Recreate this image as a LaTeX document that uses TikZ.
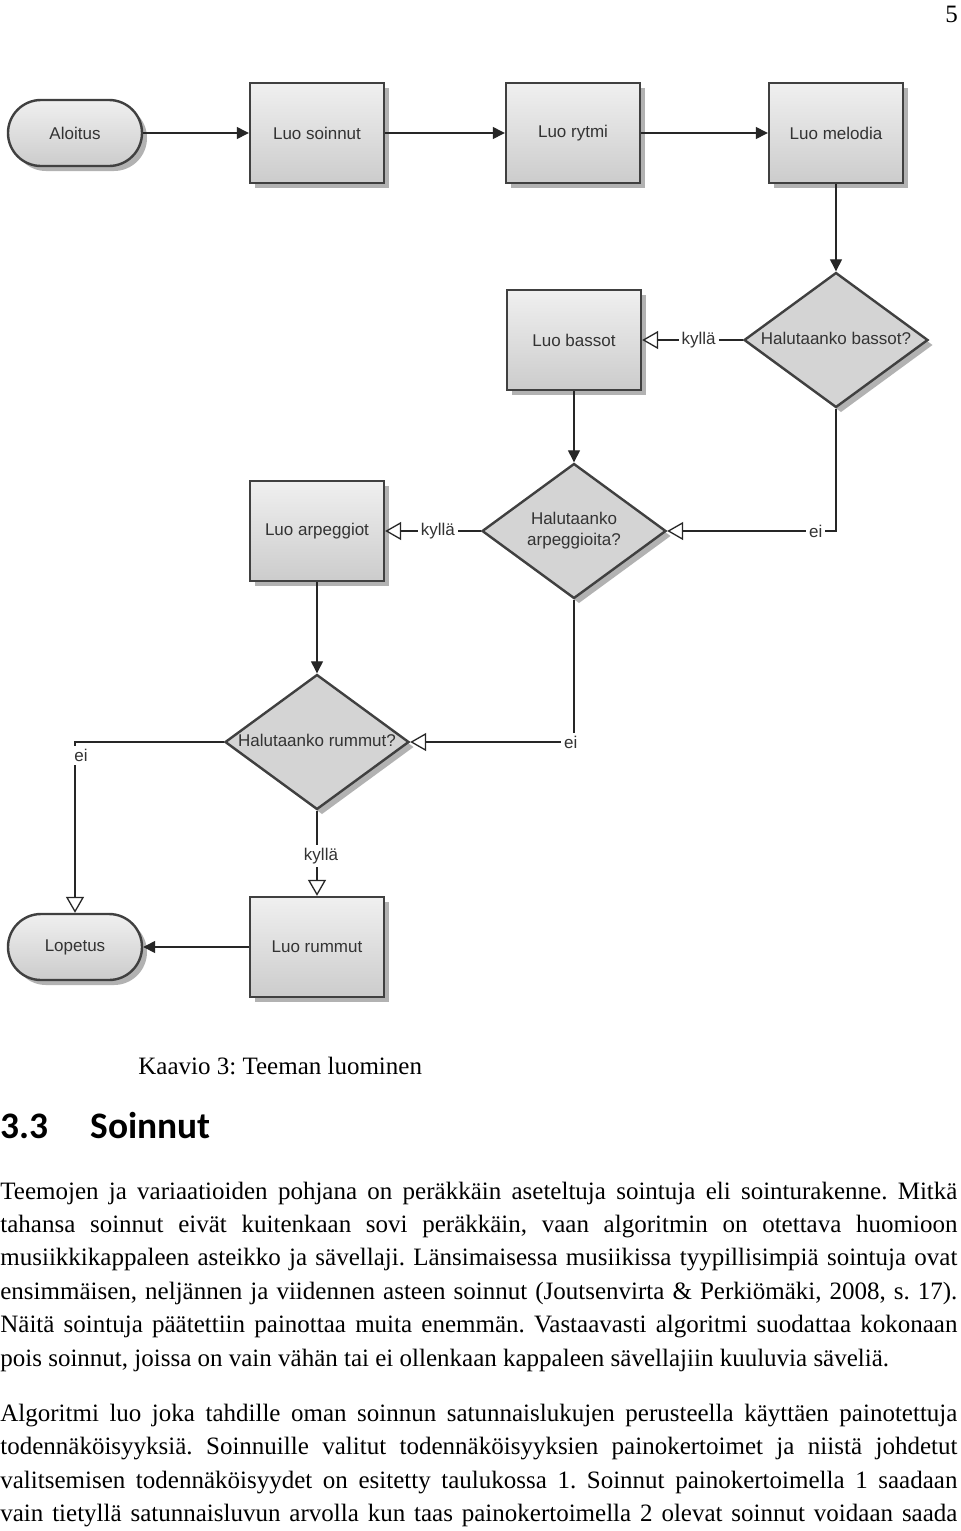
\documentclass[tikz,border=0pt]{standalone}
\usepackage{fontspec}
\setmainfont{Liberation Serif}
\setsansfont{Liberation Sans}
\newfontfamily\headfont{Carlito}
\usepackage{tikz}
\usetikzlibrary{calc,arrows.meta,positioning,shapes.geometric,shadows}
\frenchspacing

\begin{document}
\begin{tikzpicture}[x=0.5pt,y=-0.5pt]

  % Parameters
  \def\wblock{67pt}
  \def\hblock{50pt}
  \def\wtext{478.5pt}
  \def\lskip{33.4}

  % Styles
  \tikzstyle{shadowed}=[drop shadow={shadow xshift=2.5pt,shadow yshift=-2.5pt,fill=black!30,opacity=1}]
  \tikzstyle{flow}=[shadowed,draw=black!75,line width=1.2pt,inner sep=0pt,text=black!80,font=\sffamily\fontsize{8.5}{10.5}\selectfont]
  \tikzstyle{block}=[flow,top color=black!6,bottom color=black!20,minimum width=\wblock,minimum height=\hblock]
  \tikzstyle{terminal}=[block,rounded corners=16.5pt,minimum height=33pt]
  \tikzstyle{query}=[flow,diamond,fill=black!17,minimum width=92pt,minimum height=67.5pt]
  \tikzstyle{go}=[-{Triangle[length=6pt,width=6pt]},line width=0.65pt,draw=black!85]
  \tikzstyle{branch}=[-{Triangle[open,length=8pt,width=9pt]},line width=0.65pt,draw=black!85]
  \tikzstyle{lbl}=[fill=white,inner sep=1.5pt,text=black!80,font=\sffamily\fontsize{8.5}{10}\selectfont]
  \tikzstyle{body}=[anchor=base west,inner sep=0pt,font=\fontsize{12.5}{15}\selectfont]

  % \asktext{<question>}
  \newcommand\asktext[1]{\makebox[0pt]{\begin{tabular}{@{}c@{}}#1\end{tabular}}}

  \path[use as bounding box,fill=white] (0,0) rectangle (960,1531);

  % ===========================================================================

  % Flow chart
  \node[terminal] (start) at (75,133) {Aloitus};
  \node[block] (chords) at (317,133) {Luo soinnut};
  \node[block] (rhythm) at (573,133) {Luo rytmi};
  \node[block] (melody) at (836,133) {Luo melodia};
  \node[query] (qbass) at (836,340) {\asktext{Halutaanko bassot?}};
  \node[block] (bass) at (574,340) {Luo bassot};
  \node[query] (qarp) at (574,531) {\asktext{Halutaanko\\arpeggioita?}};
  \node[block] (arp) at (317,531) {Luo arpeggiot};
  \node[query] (qdrum) at (317,742) {\asktext{Halutaanko rummut?}};
  \node[block] (drum) at (317,947) {Luo rummut};
  \node[terminal] (stop) at (75,947) {Lopetus};

  % Connectors
  \draw[go] (start.east) -- (chords.west);
  \draw[go] (chords.east) -- (rhythm.west);
  \draw[go] (rhythm.east) -- (melody.west);
  \draw[go] (melody.south) -- (qbass.north);
  \draw[branch] (qbass.west) -- node[lbl,pos=0.44] {kyllä} (bass.east);
  \draw[go] (bass.south) -- (qarp.north);
  \draw[branch] (qbass.south) |- node[lbl,pos=0.56] {ei} (qarp.east);
  \draw[branch] (qarp.west) -- node[lbl,pos=0.45] {kyllä} (arp.east);
  \draw[go] (arp.south) -- (qdrum.north);
  \draw[branch] (qarp.south) |- node[lbl,pos=0.51] {ei} (qdrum.east);
  \draw[branch] (qdrum.west) -| node[lbl,pos=0.54,xshift=3pt] {ei} (stop.north);
  \draw[branch] (qdrum.south) -- node[lbl,pos=0.53,xshift=2pt] {kyllä} (drum.north);
  \draw[go] (drum.west) -- (stop.east);

  % Page text
  \node[body] (page) at (945,22) {5};
  \node[body] (caption) at (138,1074) {Kaavio 3: Teeman luominen};
  \node[body,font=\headfont\bfseries\fontsize{18.7}{22}\selectfont] (head-num) at (0,1138) {3.3};
  \node[body,font=\headfont\bfseries\fontsize{18.7}{22}\selectfont] (head) at (90,1138) {Soinnut};

  \foreach \n/\txt in {0/{Teemojen ja variaatioiden pohjana on peräkkäin aseteltuja sointuja eli sointurakenne. Mitkä},
                       1/{tahansa soinnut eivät kuitenkaan sovi peräkkäin, vaan algoritmin on otettava huomioon},
                       2/{musiikkikappaleen asteikko ja sävellaji. Länsimaisessa musiikissa tyypillisimpiä sointuja ovat},
                       3/{ensimmäisen, neljännen ja viidennen asteen soinnut (Joutsenvirta \& Perkiömäki, 2008, s. 17).},
                       4/{Näitä sointuja päätettiin painottaa muita enemmän. Vastaavasti algoritmi suodattaa kokonaan}}
    \node[body] (line-\n) at (0,{1199+\n*\lskip}) {\makebox[\wtext][s]{\txt}};
  \node[body] (line-5) at (0,{1199+5*\lskip}) {pois soinnut, joissa on vain vähän tai ei ollenkaan kappaleen sävellajiin kuuluvia säveliä.};

  \foreach \n/\txt in {6/{Algoritmi luo joka tahdille oman soinnun satunnaislukujen perusteella käyttäen painotettuja},
                       7/{todennäköisyyksiä. Soinnuille valitut todennäköisyyksien painokertoimet ja niistä johdetut},
                       8/{valitsemisen todennäköisyydet on esitetty taulukossa 1. Soinnut painokertoimella 1 saadaan},
                       9/{vain tietyllä satunnaisluvun arvolla kun taas painokertoimella 2 olevat soinnut voidaan saada}}
    \node[body] (line-\n) at (0,{1221+\n*\lskip}) {\makebox[\wtext][s]{\txt}};

\end{tikzpicture}
\end{document}
